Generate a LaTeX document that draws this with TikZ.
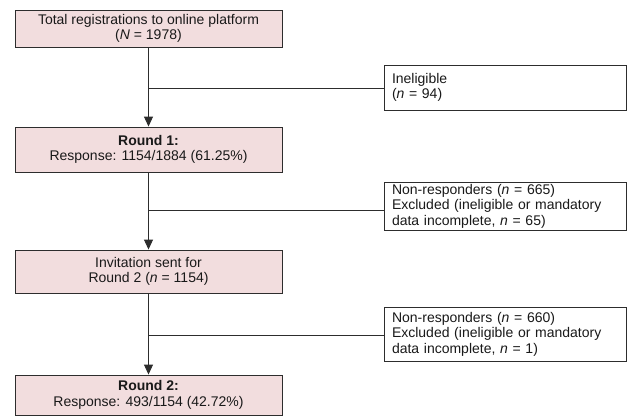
\documentclass[tikz,border=0pt]{standalone}
\usepackage{fontspec}
\setmainfont{Liberation Sans}
\usetikzlibrary{arrows.meta}
\definecolor{boxpink}{RGB}{242,221,222}
\definecolor{linegray}{RGB}{45,45,45}
\begin{document}
\begin{tikzpicture}
  [x=1pt,y=-1pt,every node/.style={draw=linegray,line width=0.9pt,inner sep=0pt,text=black!90,font=\fontsize{14}{15.5}\selectfont}]
  \tikzstyle{stage} = [fill=boxpink,minimum width=267pt,align=center]
  \tikzstyle{excl} = [fill=white,minimum width=242pt,text width=226pt,inner xsep=8pt,align=left]
  \tikzstyle{flow} = [draw=linegray,line width=0.9pt]
  \useasboundingbox (0,0) rectangle (627,416);
  \node[stage,minimum height=37pt] (reg) at (148.5,28.5) {Total registrations to online platform\\(\textit{N} = 1978)};
  \node[stage,minimum height=45pt] (r1)  at (148.5,149.5) {\textbf{Round 1:}\\Response: 1154/1884 (61.25\%)};
  \node[stage,minimum height=43pt] (inv) at (148.5,271.5) {Invitation sent for\\Round 2 (\textit{n} = 1154)};
  \node[stage,minimum height=40pt] (r2)  at (148.5,395) {\textbf{Round 2:}\\Response: 493/1154 (42.72\%)};
  \node[excl,minimum height=45pt] (inel) at (505,87.5) {Ineligible\\(\textit{n} = 94)};
  \node[excl,minimum height=48pt] (nr1)  at (505,206) {Non-responders (\textit{n} = 665)\\Excluded (ineligible or mandatory\\data incomplete, \textit{n} = 65)};
  \node[excl,minimum height=54pt] (nr2)  at (505,334) {Non-responders (\textit{n} = 660)\\Excluded (ineligible or mandatory\\data incomplete, \textit{n} = 1)};
  \coordinate (b1) at (148.5,88);
  \coordinate (b2) at (148.5,210);
  \coordinate (b3) at (148.5,335);
  \foreach \source/\dest in {reg/r1,r1/inv,inv/r2}
    \draw[flow,-{Triangle[width=9pt,length=10pt]}] (\source) -- (\dest);
  \foreach \branch/\target in {b1/inel,b2/nr1,b3/nr2}
    \draw[flow] (\branch) -- (\branch -| \target.west);
\end{tikzpicture}
\end{document}
